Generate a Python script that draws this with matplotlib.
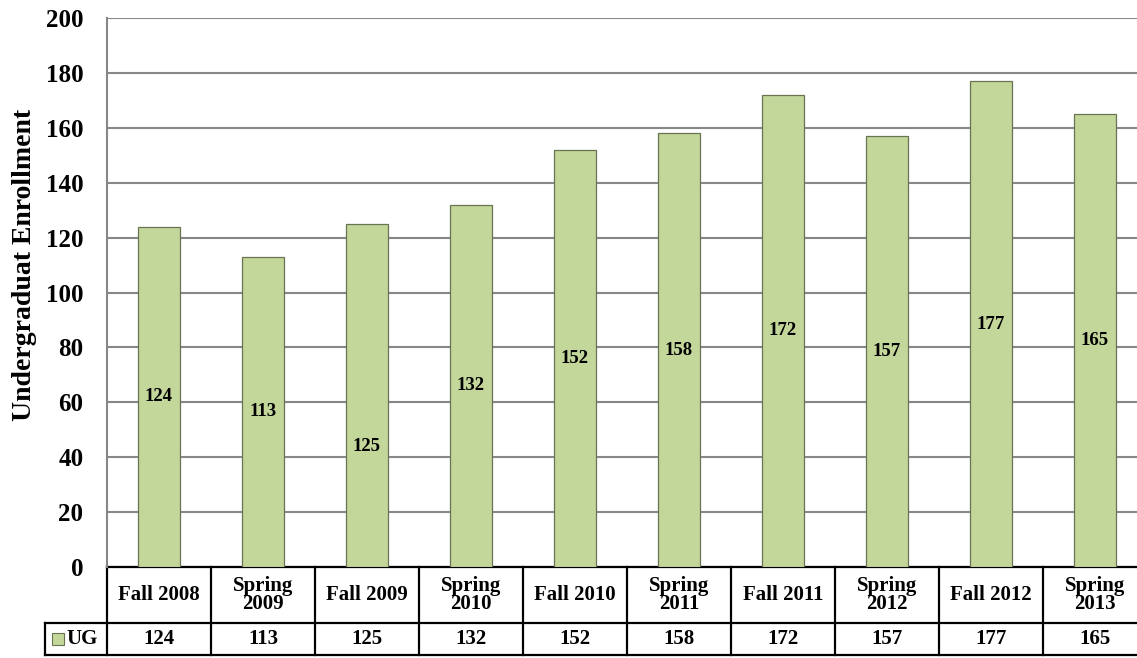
import matplotlib
matplotlib.use("Agg")
import matplotlib.pyplot as plt
from matplotlib.transforms import blended_transform_factory
from matplotlib.lines import Line2D
from matplotlib.patches import Rectangle

categories = ["Fall 2008", "Spring\n2009", "Fall 2009", "Spring\n2010", "Fall 2010",
              "Spring\n2011", "Fall 2011", "Spring\n2012", "Fall 2012", "Spring\n2013"]
ug_values = [124, 113, 125, 132, 152, 158, 172, 157, 177, 165]
series_name = "UG"
y_ticks = [0, 20, 40, 60, 80, 100, 120, 140, 160, 180, 200]
y_label = "Undergraduat Enrollment"

plt.rcParams['font.family'] = ['Liberation Serif', 'DejaVu Serif']

W, H = 1137, 658
fig = plt.figure(figsize=(W / 100, H / 100), dpi=100)
ax_left, ax_bottom, ax_right, ax_top = 107, 567, 1147, 18
ax = fig.add_axes([ax_left / W, (H - ax_bottom) / H, (ax_right - ax_left) / W, (ax_bottom - ax_top) / H])

green = '#C4D79B'
edge = '#68744f'
grid_c = '#878787'

x = list(range(len(categories)))
bars = ax.bar(x, ug_values, width=0.4, color=green, edgecolor=edge, linewidth=0.9, zorder=3)

ax.set_xlim(-0.5, len(categories) - 0.5)
ax.set_ylim(0, 200)
ax.set_yticks(y_ticks)
ax.set_yticklabels([str(t) for t in y_ticks], fontsize=18, fontweight='bold')
ax.tick_params(axis='y', length=0, pad=17)
ax.tick_params(axis='x', length=0, labelbottom=False)
ax.yaxis.grid(True, color=grid_c, linewidth=1.5, zorder=0)
ax.set_axisbelow(True)
for s in ['top', 'right', 'bottom']:
    ax.spines[s].set_visible(False)
ax.spines['left'].set_color(grid_c)
ax.spines['left'].set_linewidth(1.5)

ax.set_ylabel(y_label, fontsize=20, fontweight='bold')
ax.yaxis.set_label_coords(-0.067, 0.55)

# data labels (centered; the Fall 2009 label was manually moved lower in the original)
label_shift = {2: -18.5}
for i, v in enumerate(ug_values):
    ax.text(i, v / 2 + label_shift.get(i, 0), str(v), ha='center', va='center',
            fontsize=13.5, fontweight='bold', zorder=4)

# data table
axh = ax_bottom - ax_top
tr = blended_transform_factory(ax.transData, ax.transAxes)
row1_bot = -(623 - ax_bottom) / axh
row2_bot = -(655 - ax_bottom) / axh
legend_left = -(ax_left - 45) / (ax_right - ax_left)
n = len(categories)
lw = 1.6
ax.add_line(Line2D([-0.5, n - 0.5], [0, 0], transform=tr, color='black', lw=lw, clip_on=False))
ax.add_line(Line2D([legend_left, 1], [row1_bot, row1_bot], transform=ax.transAxes, color='black', lw=lw, clip_on=False))
ax.add_line(Line2D([legend_left, 1], [row2_bot, row2_bot], transform=ax.transAxes, color='black', lw=lw, clip_on=False))
for i in range(n + 1):
    ax.add_line(Line2D([i - 0.5, i - 0.5], [0, row2_bot], transform=tr, color='black', lw=lw, clip_on=False))
ax.add_line(Line2D([legend_left, legend_left], [row1_bot, row2_bot], transform=ax.transAxes, color='black', lw=lw, clip_on=False))

for i, c in enumerate(categories):
    ax.text(i, row1_bot / 2, c, transform=tr, ha='center', va='center', fontsize=15,
            fontweight='bold', linespacing=0.85, clip_on=False)
    ax.text(i, (row1_bot + row2_bot) / 2, str(ug_values[i]), transform=tr, ha='center', va='center',
            fontsize=15, fontweight='bold', clip_on=False)

# legend key in table
ymid = (row1_bot + row2_bot) / 2
sq_w = 12 / (ax_right - ax_left)
sq_h = 12 / axh
lx = -(ax_left - 52) / (ax_right - ax_left)
ax.add_patch(Rectangle((lx, ymid - sq_h / 2), sq_w, sq_h, transform=ax.transAxes, facecolor=green,
                       edgecolor=edge, lw=0.8, clip_on=False))
ax.text(-(ax_left - 66) / (ax_right - ax_left), ymid, series_name, transform=ax.transAxes, ha='left',
        va='center', fontsize=15, fontweight='bold', clip_on=False)

fig.savefig("out.png", dpi=100)
